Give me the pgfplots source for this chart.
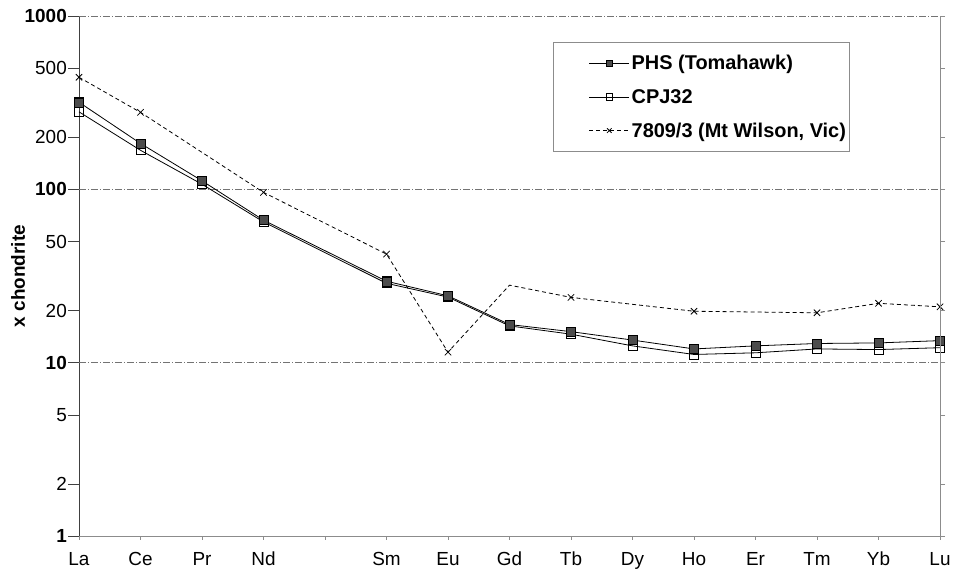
\documentclass[border=0pt]{standalone}
\usepackage{pgfplots}
\usepackage{pgfplotstable}
\pgfplotsset{compat=1.18}
\usepackage{fontspec}
\setmainfont{Liberation Sans}

% Chondrite-normalised REE abundances (Pm not determined)
\pgfplotstableread{
x   PHS   CPJ
0   318   280
1   184   168
2   112   107
3   66.4  64.9
5   29.5  28.7
6   24.3  23.9
7   16.6  16.3
8   15.1  14.6
9   13.5  12.5
10  12.0  11.15
11  12.5  11.4
12  12.9  12.0
13  13.0  11.9
14  13.4  12.2
}\reedata

% 7809/3: Pr, Dy and Er not analysed
\pgfplotstableread{
x   MW
0   443
1   278
3   96
5   42.3
6   11.5
7   28.0
8   23.8
10  19.8
12  19.4
13  22.0
14  21.0
}\mwdata

\newcommand{\lblfont}{\fontsize{19}{22}\selectfont}
\newcommand{\legfont}{\fontsize{20}{23}\selectfont}

\begin{document}
\begin{tikzpicture}
\begin{axis}[
  name=ax,
  scale only axis,
  width=861bp, height=520bp,
  xmin=0, xmax=14,
  ymode=log, ymin=1, ymax=1000,
  axis x line*=bottom, axis y line*=left,
  axis line style={-},
  x axis line style={draw=black!45, line width=0.8bp},
  y axis line style={draw=black!75, line width=0.8bp},
  tick align=outside,
  major tick length=11bp,
  xtick={0,...,14},
  xticklabels={La,Ce,Pr,Nd,,Sm,Eu,Gd,Tb,Dy,Ho,Er,Tm,Yb,Lu},
  xtick style={/pgfplots/major tick length=4bp, draw=black!45, line width=0.6bp},
  ytick={1,2,5,10,20,50,100,200,500,1000},
  yticklabels={\textbf{1},2,5,\textbf{10},20,50,\textbf{100},200,500,\textbf{1000}},
  ytick style={draw=black!75, line width=0.6bp},
  yminorticks=false,
  extra y ticks={10,100,1000},
  extra y tick labels={},
  extra y tick style={grid=major, major grid style={draw=black!55, dash pattern=on 7bp off 2bp on 1bp off 2bp, line width=0.6bp}, tick style={draw=none}},
  ticklabel style={font=\lblfont},
  xticklabel style={text height=13.5bp, text depth=4bp, yshift=-2bp},
  yticklabel style={inner xsep=1bp},
  every axis y label/.style={at={(rel axis cs:0,0.5)}, xshift=-61bp, rotate=90, anchor=center, font=\lblfont\bfseries},
  ylabel={x chondrite},
  legend style={at={(rel axis cs:0.5505,0.95)}, anchor=north west,
    draw=black!45, fill=white, line width=0.6bp,
    font=\legfont\bfseries, row sep=14bp, inner ysep=11bp, inner xsep=1bp},
  legend cell align=left,
  legend image code/.code={%
    \path[draw=none] (0bp,0bp) -- (35bp,0bp);
    \draw[#1, mark indices={2}, mark size=3.2bp] plot coordinates {(35bp,0bp) (55bp,0bp) (75bp,0bp)};},
]
\addplot[black, line width=0.8bp, mark=square*, mark size=4.5bp,
  mark options={solid, fill=black!70, draw=black}]
  table[x=x, y=PHS] {\reedata};
\addlegendentry{PHS (Tomahawk)}
\addplot[black, line width=0.8bp, mark=square, mark size=4.5bp,
  mark options={solid, fill=white, draw=black}]
  table[x=x, y=CPJ] {\reedata};
\addlegendentry{CPJ32}
\addplot[black, line width=0.8bp, dash pattern=on 4bp off 3bp, mark=x, mark size=4.5bp,
  mark options={solid}, mark indices={1,2,3,4,5,7,8,9,10,11}]
  table[x=x, y=MW] {\mwdata};
\addlegendentry{7809/3 (Mt Wilson, Vic)}
% filled markers of PHS sit on top of the open ones
\addplot[black, only marks, mark=square*, mark size=4.5bp,
  mark options={solid, fill=black!70, draw=black}, forget plot]
  table[x=x, y=PHS] {\reedata};
\end{axis}
% right-hand frame with outward ticks
\begin{axis}[
  scale only axis,
  width=861bp, height=520bp,
  xmin=0, xmax=14,
  ymode=log, ymin=1, ymax=1000,
  axis x line=none, axis y line*=right,
  axis line style={-, draw=black!45, line width=0.8bp},
  tick align=outside, major tick length=5bp,
  ytick={1,2,5,10,20,50,100,200,500,1000},
  yticklabels={},
  yminorticks=false,
  ytick style={draw=black!45, line width=0.6bp},
]
\end{axis}
\pgfresetboundingbox
\path ([xshift=-79bp,yshift=-41bp]ax.south west) rectangle ([xshift=14bp,yshift=16bp]ax.north east);
\end{tikzpicture}
\end{document}
